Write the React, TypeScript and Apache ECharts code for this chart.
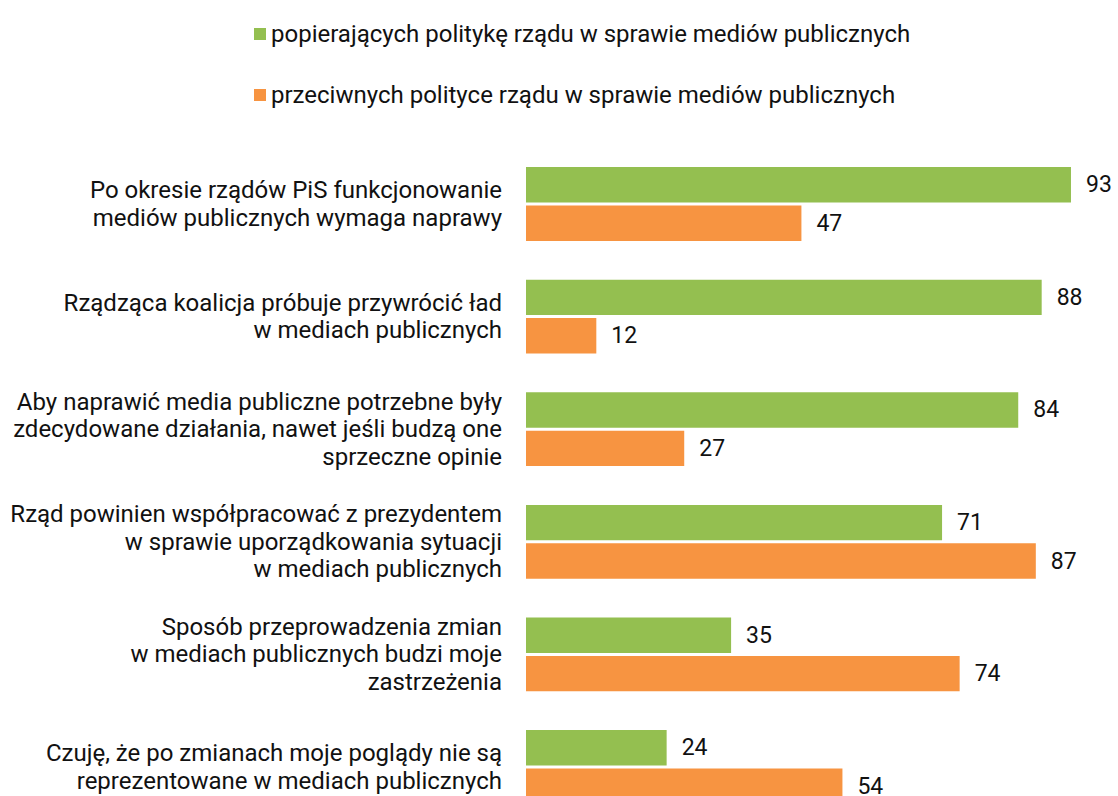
import React, { useEffect, useRef } from "react";
import * as echarts from "echarts";

const categories = [
  "Po okresie rządów PiS funkcjonowanie\nmediów publicznych wymaga naprawy",
  "Rządząca koalicja próbuje przywrócić ład\nw mediach publicznych",
  "Aby naprawić media publiczne potrzebne były\nzdecydowane działania, nawet jeśli budzą one\nsprzeczne opinie",
  "Rząd powinien współpracować z prezydentem\nw sprawie uporządkowania sytuacji\nw mediach publicznych",
  "Sposób przeprowadzenia zmian\nw mediach publicznych budzi moje\nzastrzeżenia",
  "Czuję, że po zmianach moje poglądy nie są\nreprezentowane w mediach publicznych",
];
const seriesNames = [
  "popierających politykę rządu w sprawie mediów publicznych",
  "przeciwnych polityce rządu w sprawie mediów publicznych",
];
const supporters = [93, 88, 84, 71, 35, 24];
const opponents = [47, 12, 27, 87, 74, 54];
const colors = ["#94BF50", "#F79441"];

const FONT = "Roboto, 'Noto Sans', sans-serif";

export default function App() {
  const ref = useRef<HTMLDivElement>(null);
  useEffect(() => {
    document.body.style.margin = "0";
    document.body.style.overflow = "hidden";
    document.documentElement.style.overflow = "hidden";
    const chart = echarts.init(ref.current!, null, { renderer: "svg" });
    const band = 112.6;
    chart.setOption({
      animation: false,
      textStyle: { fontFamily: FONT },
      legend: {
        orient: "vertical",
        left: 249,
        top: 15,
        itemGap: 33,
        itemWidth: 12,
        itemHeight: 12,
        icon: "rect",
        data: seriesNames,
        textStyle: { fontSize: 24, color: "#111", fontFamily: FONT, lineHeight: 28 },
      },
      grid: { left: 526, right: 6, top: 147.7, height: band * categories.length },
      xAxis: { type: "value", min: 0, max: 100, show: false },
      yAxis: {
        type: "category",
        inverse: true,
        data: categories,
        axisLine: { show: false },
        axisTick: { show: false },
        splitLine: { show: false },
        axisLabel: {
          margin: 24,
          fontSize: 24,
          lineHeight: 27.5,
          color: "#111",
          fontFamily: FONT,
          align: "right",
        },
      },
      series: [supporters, opponents].map((vals, si) => ({
        name: seriesNames[si],
        type: "bar",
        data: vals,
        barWidth: 35.4,
        barGap: "8.5%",
        itemStyle: { color: colors[si] },
        label: {
          show: true,
          position: "right",
          distance: 15,
          color: "#111",
          fontSize: 23,
          fontFamily: FONT,
        },
      })),
    });
    return () => chart.dispose();
  }, []);
  return <div ref={ref} style={{ width: 1118, height: 830 }} />;
}
